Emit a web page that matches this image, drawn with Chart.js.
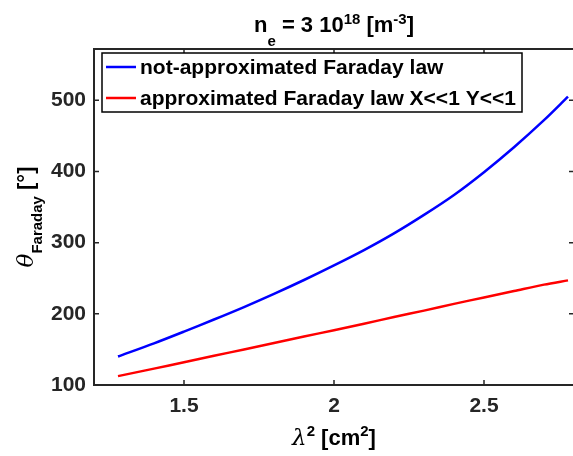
<!DOCTYPE html>
<html>
<head>
<meta charset="utf-8">
<script src="https://cdn.jsdelivr.net/npm/chart.js@4.4.1/dist/chart.umd.min.js"></script>
<style>
html, body { margin: 0; padding: 0; background: #fff; overflow: hidden; }
canvas { display: block; }
</style>
</head>
<body>
<canvas id="chart" width="576" height="456"></canvas>
<script>
// lambda^2 [cm^2] and Faraday angle [deg]
var lambda2 = [1.28, 1.4, 1.5, 1.6, 1.7, 1.8, 1.9, 2.0, 2.1, 2.2, 2.3, 2.4, 2.5, 2.6, 2.7, 2.78];
var thetaExact = [140, 158.5, 175, 192, 209.5, 228, 247.5, 268, 289.5, 313, 339, 367, 399, 434, 472, 505];
var thetaApprox = [112.5, 123, 132, 141, 150, 159, 168, 177, 186, 195.5, 204.5, 214, 223, 232, 241, 247];
var seriesNames = ["not-approximated Faraday law", "approximated Faraday law X<<1 Y<<1"];
var xTicks = [1.5, 2, 2.5];
var yTicks = [100, 200, 300, 400, 500];

var axisColor = "#262626";
var FONT = "'Liberation Sans', Arial, Helvetica, sans-serif";

function fontFor(p) {
	return (p.italic ? "italic " : "") + (p.bold === false ? "" : "bold ") + p.size + "px " + (p.family || FONT);
}

// draws a run of text pieces (sub/superscripts) centred on x
function drawParts(ctx, parts, x, y) {
	var total = 0;
	parts.forEach((p) => {
		ctx.font = fontFor(p);
		p.w = ctx.measureText(p.t).width;
		total += p.w;
	});
	var cx = x - total / 2;
	parts.forEach((p) => {
		ctx.font = fontFor(p);
		ctx.fillText(p.t, cx, y + (p.dy || 0));
		cx += p.w;
	});
}

var matlabAxes = {
	id: "matlabAxes",
	afterDatasetsDraw(chart) {
		const ctx = chart.ctx;
		const a = chart.chartArea;
		const xs = chart.scales.x;
		const ys = chart.scales.y;
		ctx.save();
		ctx.strokeStyle = axisColor;
		ctx.lineWidth = 2;
		ctx.strokeRect(a.left, a.top, a.right - a.left, a.bottom - a.top);
		ctx.lineWidth = 1.5;
		ctx.beginPath();
		xTicks.forEach((v) => {
			const px = xs.getPixelForValue(v);
			ctx.moveTo(px, a.bottom);
			ctx.lineTo(px, a.bottom - 5);
			ctx.moveTo(px, a.top);
			ctx.lineTo(px, a.top + 5);
		});
		yTicks.forEach((v) => {
			const py = ys.getPixelForValue(v);
			ctx.moveTo(a.left, py);
			ctx.lineTo(a.left + 5, py);
			ctx.moveTo(a.right, py);
			ctx.lineTo(a.right - 5, py);
		});
		ctx.stroke();
		ctx.restore();
	},
	afterDraw(chart) {
		const ctx = chart.ctx;
		const a = chart.chartArea;
		ctx.save();
		ctx.fillStyle = "#000";
		ctx.textBaseline = "alphabetic";
		const cx = (a.left + a.right) / 2;

		// title
		drawParts(ctx, [
			{ t: "n", size: 22 },
			{ t: "e", size: 15, dy: 14 },
			{ t: " = 3 10", size: 22 },
			{ t: "18", size: 15, dy: -8 },
			{ t: " [m", size: 22 },
			{ t: "-3", size: 15, dy: -8 },
			{ t: "]", size: 22 },
		], cx, 32);

		// x axis title
		drawParts(ctx, [
			{ t: "λ", size: 23, italic: true, bold: false, family: "'DejaVu Serif', serif" },
			{ t: "2", size: 15, dy: -9 },
			{ t: " [cm", size: 22 },
			{ t: "2", size: 15, dy: -9 },
			{ t: "]", size: 22 },
		], cx, 445);

		// y axis title
		ctx.translate(33, (a.top + a.bottom) / 2);
		ctx.rotate(-Math.PI / 2);
		drawParts(ctx, [
			{ t: "θ", size: 23, italic: true, bold: false, family: "'DejaVu Serif', serif" },
			{ t: "Faraday", size: 15, dy: 9 },
			{ t: " [°]", size: 22 },
		], 0, 0);
		ctx.restore();

		// legend
		ctx.save();
		const lx = 102, ly = 53, lw = 420, lh = 59;
		ctx.fillStyle = "#fff";
		ctx.fillRect(lx, ly, lw, lh);
		ctx.strokeStyle = "#000";
		ctx.lineWidth = 1.5;
		ctx.strokeRect(lx, ly, lw, lh);
		ctx.font = "bold 21px " + FONT;
		ctx.textBaseline = "middle";
		chart.data.datasets.forEach((ds, i) => {
			const y = ly + 14 + i * 31;
			ctx.strokeStyle = ds.borderColor;
			ctx.lineWidth = 2.5;
			ctx.beginPath();
			ctx.moveTo(lx + 4, y);
			ctx.lineTo(lx + 34, y);
			ctx.stroke();
			ctx.fillStyle = "#000";
			ctx.fillText(ds.label, lx + 38, y + 1);
		});
		ctx.restore();
	},
};

const tickFont = { family: FONT, size: 21, weight: "bold" };

new Chart(document.getElementById("chart"), {
	type: "line",
	data: {
		datasets: [
			{
				label: seriesNames[0],
				data: lambda2.map((x, i) => ({ x: x, y: thetaExact[i] })),
				borderColor: "#0000ff",
			},
			{
				label: seriesNames[1],
				data: lambda2.map((x, i) => ({ x: x, y: thetaApprox[i] })),
				borderColor: "#ff0000",
			},
		],
	},
	options: {
		responsive: false,
		animation: false,
		devicePixelRatio: 1,
		layout: { padding: { top: 49, right: 2, left: 0, bottom: 0 } },
		elements: {
			point: { radius: 0 },
			line: { borderWidth: 2.5, tension: 0.3, fill: false },
		},
		plugins: { legend: { display: false }, title: { display: false }, tooltip: { enabled: false } },
		scales: {
			x: {
				type: "linear",
				min: 1.2,
				max: 2.8,
				bounds: "data",
				grid: { display: false, drawTicks: false },
				border: { display: false },
				afterBuildTicks: (s) => { s.ticks = xTicks.map((v) => ({ value: v })); },
				afterFit: (s) => { s.height = 71; },
				ticks: { padding: 9, color: axisColor, font: tickFont, callback: (v) => String(v) },
			},
			y: {
				type: "linear",
				min: 100,
				max: 572,
				bounds: "data",
				grid: { display: false, drawTicks: false },
				border: { display: false },
				afterBuildTicks: (s) => { s.ticks = yTicks.map((v) => ({ value: v })); },
				afterFit: (s) => { s.width = 94; },
				ticks: { padding: 8, color: axisColor, font: tickFont, callback: (v) => String(v) },
			},
		},
	},
	plugins: [matlabAxes],
});
</script>
</body>
</html>
